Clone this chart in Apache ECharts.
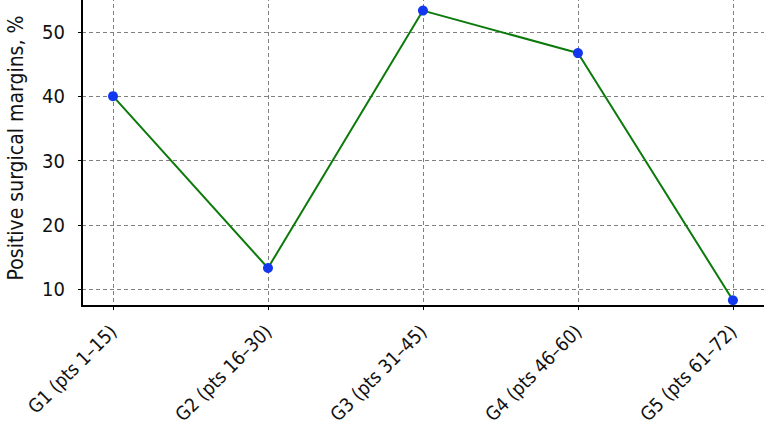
<!DOCTYPE html>
<html>
<head>
<meta charset="utf-8">
<script src="https://cdn.jsdelivr.net/npm/echarts@6/dist/echarts.min.js"></script>
<style>
  html, body { margin: 0; padding: 0; background: #fff; }
  #chart { width: 764px; height: 429px; }
</style>
</head>
<body>
<div id="chart"></div>
<script>
const groups = ['G1 (pts 1–15)', 'G2 (pts 16–30)', 'G3 (pts 31–45)', 'G4 (pts 46–60)', 'G5 (pts 61–72)'];
const positiveMargins = [40.0, 13.3, 53.3, 46.7, 8.3];
const yTicks = [10, 20, 30, 40, 50];

const fontFamily = '"DejaVu Sans Condensed", sans-serif';
const gridColor = '#808080';
const axisColor = '#000';

const chart = echarts.init(document.getElementById('chart'), null, { renderer: 'svg' });

chart.setOption({
    animation: false,
    textStyle: { fontFamily },
    // plot frame runs past the top and right edges of the canvas
    grid: {
        show: true, outerBoundsMode: 'none',
        left: 82, right: -3, top: -10, bottom: 123,
        borderColor: axisColor, borderWidth: 2,
    },
    xAxis: {
        type: 'value',
        min: -0.2,
        max: 4.22,
        axisLine: { show: true, onZero: false, lineStyle: { color: axisColor, width: 2 } },
        axisTick: { show: true, length: 4, customValues: groups.map((_, i) => i), lineStyle: { color: axisColor, width: 1 } },
        axisLabel: {
            customValues: groups.map((_, i) => i),
            formatter: (v) => groups[Math.round(v)] || '',
            rotate: 45,
            margin: 22,
            color: '#111',
            fontSize: 19,
            fontFamily,
        },
        splitLine: { show: true, lineStyle: { color: gridColor, type: [4, 3], width: 1 } },
    },
    yAxis: {
        type: 'value',
        position: 'left',
        min: 7.4,
        max: 56.5,
        name: 'Positive surgical margins, %',
        nameLocation: 'middle',
        nameGap: 56,
        nameTextStyle: { color: '#111', fontSize: 21, fontFamily },
        axisLine: { show: true, onZero: false, lineStyle: { color: axisColor, width: 2 } },
        axisTick: { show: true, length: 4, customValues: yTicks, lineStyle: { color: axisColor, width: 1 } },
        axisLabel: { customValues: yTicks, margin: 17, color: '#111', fontSize: 20, fontFamily },
        splitLine: { show: true, lineStyle: { color: gridColor, type: [4, 3], width: 1 } },
    },
    series: [{
        type: 'line',
        data: positiveMargins.map((v, i) => [i, v]),
        symbol: 'circle',
        symbolSize: 10,
        lineStyle: { color: '#0b7a0b', width: 2 },
        itemStyle: { color: '#1237ee', borderWidth: 0 },
        z: 3,
    }],
});
</script>
</body>
</html>
